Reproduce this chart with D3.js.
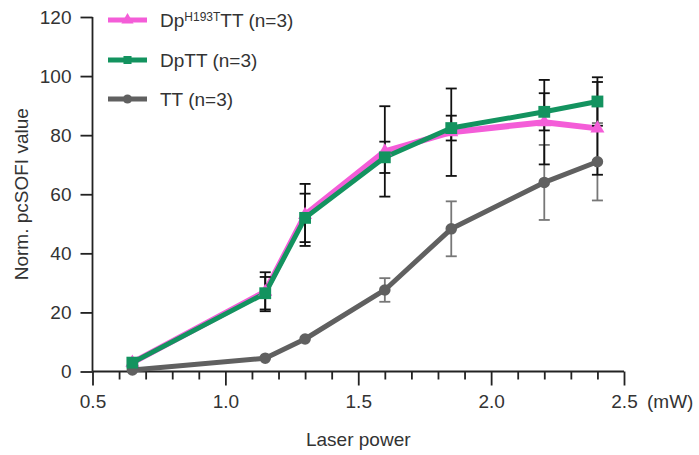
<!DOCTYPE html>
<html><head><meta charset="utf-8">
<script src="https://cdn.jsdelivr.net/npm/d3@7"></script>
<style>body{margin:0;background:#fff}svg{display:block}text{font-family:"Liberation Sans",Arial,sans-serif}</style>
</head><body><svg id="c" width="699" height="455"></svg>
<script>
const laserPower = [0.65, 1.15, 1.3, 1.6, 1.85, 2.2, 2.4];
const dpH193T = [3, 27, 53, 74.5, 81, 84.4, 82.3];
const dpH193TErr = [0, 6.6, 10.5, 15.3, 14.8, 14.3, 15.7];
const dpTT = [3, 26.5, 52, 72.5, 82.4, 87.9, 91.4];
const dpTTErr = [0, 5.5, 8.2, 5.3, 4.2, 6.3, 8.2];
const tt = [0.5, 4.5, 11, 27.6, 48.3, 64, 71];
const ttErr = [0, 0, 0, 4, 9.3, 12.7, 13.1];
const xTicks = [0.5, 1.0, 1.5, 2.0, 2.5];
const yTicks = [0, 20, 40, 60, 80, 100, 120];

const svg = d3.select("#c");
const x = d3.scaleLinear().domain([0.5, 2.5]).range([92.5, 624]);
const y = d3.scaleLinear().domain([0, 120]).range([371.5, 17]);
const tickColor = "#222", labelColor = "#333", fs = 19;

const gx = svg.append("g").attr("transform", `translate(0,${y(0)})`)
  .call(d3.axisBottom(x).tickValues(xTicks).tickFormat(d3.format(".1f")).tickSize(14).tickPadding(9));
const gxm = svg.append("g").attr("transform", `translate(0,${y(0)})`)
  .call(d3.axisBottom(x).tickValues(d3.range(0.6, 2.5, 0.1).filter(v => Math.abs(v*2 - Math.round(v*2)) > 1e-6)).tickSize(8).tickFormat(""));
const gy = svg.append("g").attr("transform", `translate(${x(0.5)},0)`)
  .call(d3.axisLeft(y).tickValues(yTicks).tickSize(12).tickPadding(9));
[gx, gxm, gy].forEach(g => {
  g.selectAll("line").attr("stroke", tickColor).attr("stroke-width", 1.8);
  g.selectAll("text").attr("font-size", fs).attr("fill", labelColor).attr("font-family", '"Liberation Sans",Arial,sans-serif');
  g.select(".domain").remove();
});
svg.append("line").attr("x1", x(0.5)).attr("x2", x(2.5)).attr("y1", y(0)).attr("y2", y(0)).attr("stroke", tickColor).attr("stroke-width", 1.8);
svg.append("line").attr("x1", x(0.5)).attr("x2", x(0.5)).attr("y1", y(0)).attr("y2", y(120)).attr("stroke", tickColor).attr("stroke-width", 1.8);

svg.append("text").attr("x", 647).attr("y", y(0) + 23).attr("dy", "0.71em").attr("font-size", fs).attr("fill", labelColor).text("(mW)");
svg.append("text").attr("x", x(1.5)).attr("y", 446).attr("text-anchor", "middle").attr("font-size", fs).attr("fill", labelColor).text("Laser power");
svg.append("text").attr("transform", `translate(28,${(y(0)+y(120))/2}) rotate(-90)`).attr("text-anchor", "middle").attr("font-size", fs).attr("fill", labelColor).text("Norm. pcSOFI value");

const series = [
  {name: "tt", vals: tt, err: ttErr, color: "#606060", errColor: "#777", shape: d3.symbolCircle, w: 5},
  {name: "h", vals: dpH193T, err: dpH193TErr, color: "#F45DD8", errColor: "#111", shape: d3.symbolTriangle, w: 6},
  {name: "dp", vals: dpTT, err: dpTTErr, color: "#13935F", errColor: "#111", shape: d3.symbolSquare, w: 5},
];
const line = d3.line().x((d, i) => x(laserPower[i])).y(d => y(d));

series.forEach(s => {
  svg.append("path").datum(s.vals).attr("d", line).attr("fill", "none")
    .attr("stroke", s.color).attr("stroke-width", s.w).attr("stroke-linejoin", "round");
});
series.forEach(s => {
  const g = svg.append("g").attr("stroke", s.errColor).attr("stroke-width", 1.8);
  s.vals.forEach((v, i) => {
    const e = s.err[i]; if (!e) return;
    const cx = x(laserPower[i]);
    g.append("line").attr("x1", cx).attr("x2", cx).attr("y1", y(v + e)).attr("y2", y(v - e));
    [v + e, v - e].forEach(w => g.append("line").attr("x1", cx - 5.5).attr("x2", cx + 5.5).attr("y1", y(w)).attr("y2", y(w)));
  });
});
series.forEach(s => {
  const size = s.shape === d3.symbolSquare ? 140 : (s.shape === d3.symbolCircle ? 105 : 85);
  svg.append("g").selectAll("path").data(s.vals).join("path")
    .attr("transform", (d, i) => `translate(${x(laserPower[i])},${y(d)})`)
    .attr("d", d3.symbol(s.shape, size)).attr("fill", s.color);
});

const legend = [
  {color: "#F45DD8", shape: d3.symbolTriangle, y: 20, label: "h"},
  {color: "#13935F", shape: d3.symbolSquare, y: 60, label: "DpTT (n=3)"},
  {color: "#606060", shape: d3.symbolCircle, y: 99, label: "TT (n=3)"},
];
legend.forEach(l => {
  svg.append("line").attr("x1", 108).attr("x2", 147).attr("y1", l.y).attr("y2", l.y).attr("stroke", l.color).attr("stroke-width", 5);
  svg.append("path").attr("transform", `translate(127.5,${l.y})`).attr("d", d3.symbol(l.shape, 65)).attr("fill", l.color);
  const t = svg.append("text").attr("x", 160).attr("y", l.y + 7).attr("font-size", fs).attr("fill", labelColor);
  if (l.label === "h") {
    t.append("tspan").text("Dp");
    t.append("tspan").attr("font-size", 12).attr("dy", -6).text("H193T");
    t.append("tspan").attr("dy", 6).text("TT (n=3)");
  } else t.text(l.label);
});
</script></body></html>
